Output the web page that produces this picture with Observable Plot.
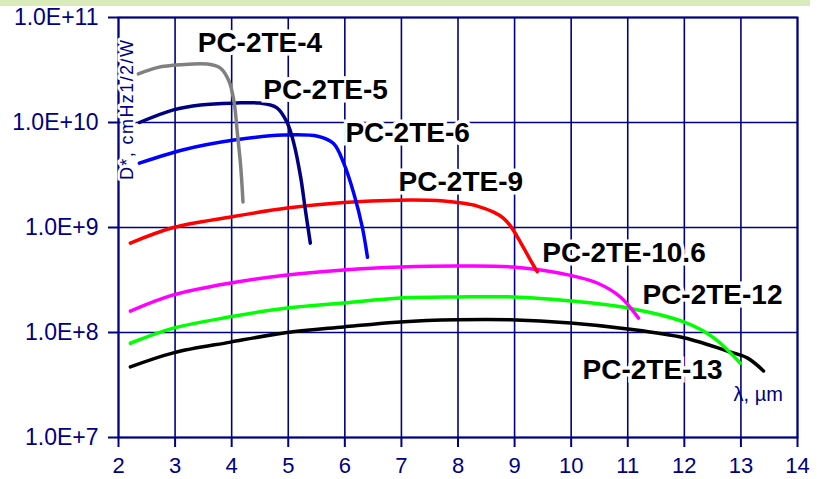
<!DOCTYPE html>
<html>
<head>
<meta charset="utf-8">
<script src="https://cdn.jsdelivr.net/npm/d3@7"></script>
<script src="https://cdn.jsdelivr.net/npm/@observablehq/plot@0.6"></script>
<style>
  html, body { margin: 0; padding: 0; background: #ffffff; }
  #wrap { position: relative; width: 819px; height: 479px; }
  #band { position: absolute; left: 0; top: 0; width: 810px; height: 6px; background: #d9ebbb; }
</style>
</head>
<body>
<div id="wrap"><div id="band"></div><div id="chart"></div></div>
<script>
// wavelength (µm) and detectivity D* (cmHz1/2/W) per detector
const lam4 = [2.35, 2.7, 3.1, 3.57, 3.8, 3.95, 4.04, 4.1, 4.16, 4.2];
const d4   = [2.9e10, 3.35e10, 3.55e10, 3.6e10, 3.3e10, 2.5e10, 1.6e10, 8e9, 3.8e9, 1.75e9];

const lam5 = [2.37, 2.97, 3.45, 4.04, 4.5, 4.8, 4.98, 5.1, 5.22, 5.3, 5.39];
const d5   = [1.0e10, 1.32e10, 1.47e10, 1.53e10, 1.53e10, 1.38e10, 1.0e10, 6.3e9, 3.0e9, 1.5e9, 7.1e8];

const lam6 = [2.37, 3.15, 4.04, 4.92, 5.52, 5.8, 5.98, 6.16, 6.31, 6.4];
const d6   = [4.1e9, 5.5e9, 6.8e9, 7.6e9, 7.4e9, 6.3e9, 4.1e9, 2.1e9, 1.0e9, 5.2e8];

const lam9 = [2.21, 2.97, 3.98, 4.98, 5.98, 6.93, 7.75, 8.1, 8.34, 8.63, 8.8, 8.93, 9.1, 9.28, 9.4];
const d9   = [7.1e8, 1.0e9, 1.26e9, 1.53e9, 1.73e9, 1.82e9, 1.79e9, 1.70e9, 1.60e9, 1.40e9, 1.23e9, 1.03e9, 7.3e8, 4.9e8, 3.8e8];

const lam106 = [2.21, 2.97, 3.98, 4.98, 5.98, 6.98, 7.99, 8.98, 9.99, 10.46, 10.87, 11.19];
const d106   = [1.6e8, 2.28e8, 2.96e8, 3.53e8, 3.94e8, 4.2e8, 4.3e8, 4.2e8, 3.5e8, 2.96e8, 2.18e8, 1.37e8];

const lam12 = [2.21, 2.97, 3.98, 4.98, 5.98, 6.98, 7.99, 8.98, 9.99, 11.0, 11.99, 12.52, 12.99];
const d12   = [7.9e7, 1.1e8, 1.41e8, 1.71e8, 1.91e8, 2.13e8, 2.18e8, 2.18e8, 2.0e8, 1.71e8, 1.26e8, 8.9e7, 5.1e7];

const lam13 = [2.21, 2.97, 3.98, 4.98, 5.98, 6.98, 7.99, 8.93, 9.99, 11.0, 11.99, 12.82, 13.12, 13.4];
const d13   = [4.7e7, 6.4e7, 8.1e7, 1.0e8, 1.13e8, 1.26e8, 1.32e8, 1.32e8, 1.23e8, 1.08e8, 8.9e7, 6.5e7, 5.7e7, 4.3e7];

const seriesNames = ["PC-2TE-13", "PC-2TE-12", "PC-2TE-10.6", "PC-2TE-9", "PC-2TE-6", "PC-2TE-5", "PC-2TE-4"];
const seriesLam = [lam13, lam12, lam106, lam9, lam6, lam5, lam4];
const seriesD = [d13, d12, d106, d9, d6, d5, d4];
const seriesColors = ["#000000", "#00ff00", "#ff00ff", "#ff0000", "#0000ff", "#000080", "#808080"];

// label anchors (left edge, vertical middle) in data units
const labelNames = ["PC-2TE-4", "PC-2TE-5", "PC-2TE-6", "PC-2TE-9", "PC-2TE-10.6", "PC-2TE-12", "PC-2TE-13"];
const labelLam = [3.40, 4.56, 6.01, 6.95, 9.49, 11.26, 10.20];
const labelD = [5.7e10, 2.04e10, 7.94e9, 2.71e9, 5.7e8, 2.28e8, 4.4e7];

const xTicks = [2, 3, 4, 5, 6, 7, 8, 9, 10, 11, 12, 13, 14];
const yTicks = [1e7, 1e8, 1e9, 1e10, 1e11];
const yTickLabels = ["1.0E+7", "1.0E+8", "1.0E+9", "1.0E+10", "1.0E+11"];

const yTitle = "D*, cmHz1/2/W";
const xTitle = "λ, µm";

const NAVY = "#000080";

const rows = [];
seriesNames.forEach((name, i) => {
  seriesLam[i].forEach((l, j) => rows.push({series: name, lam: l, d: seriesD[i][j]}));
});
const labels = labelNames.map((n, i) => ({name: n, lam: labelLam[i], d: labelD[i]}));

const chart = Plot.plot({
  width: 819,
  height: 479,
  marginLeft: 118,
  marginRight: 22,
  marginTop: 17,
  marginBottom: 42,
  style: {background: "transparent", fontFamily: "'Liberation Sans', Arial, sans-serif"},
  x: {domain: [2, 14]},
  y: {type: "log", domain: [1e7, 1e11]},
  color: {domain: seriesNames, range: seriesColors},
  marks: [
    Plot.gridX(xTicks, {stroke: NAVY, strokeOpacity: 1, strokeWidth: 1.6}),
    Plot.gridY(yTicks, {stroke: NAVY, strokeOpacity: 1, strokeWidth: 1.6}),
    Plot.frame({stroke: NAVY, strokeWidth: 2}),
    Plot.axisX({ticks: xTicks, tickSize: 10, tickPadding: 10, fontSize: 22, color: NAVY, strokeWidth: 2, label: null, tickFormat: d => String(d)}),
    Plot.axisY({ticks: yTicks, tickSize: 10, tickPadding: 10, fontSize: 23, color: NAVY, strokeWidth: 2, label: null,
      tickFormat: d => yTickLabels[yTicks.indexOf(d)]}),
    Plot.line(rows, {x: "lam", y: "d", z: "series", stroke: "series", strokeWidth: 3.5, curve: "catmull-rom"}),
    Plot.text(labels, {x: "lam", y: "d", text: "name", textAnchor: "start", fontSize: 28, fontWeight: "bold",
      fill: "black", stroke: "white", strokeWidth: 7, strokeLinejoin: "miter"}),
    Plot.text([yTitle], {x: 2.16, y: 2.83e9, text: d => d, rotate: -90, textAnchor: "start", fontSize: 18, fill: NAVY,
      stroke: "white", strokeWidth: 5}),
    Plot.text([xTitle], {x: 12.87, y: 2.54e7, text: d => d, textAnchor: "start", fontSize: 20, fill: NAVY})
  ]
});
d3.select(chart).selectAll("text").filter(function () { return this.textContent === yTitle; })
  .attr("textLength", 140).attr("lengthAdjust", "spacing");
document.getElementById("chart").appendChild(chart);
</script>
</body>
</html>
